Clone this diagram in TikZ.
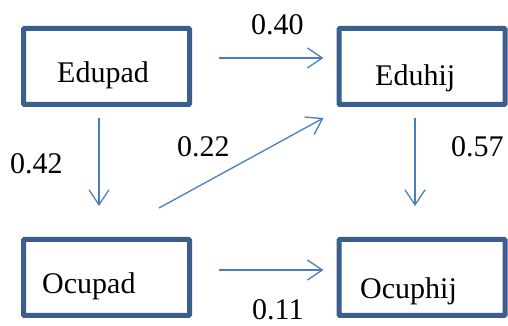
\documentclass[tikz,border=0pt]{standalone}
\usepackage{fontspec}
\setmainfont{Liberation Serif}
\usetikzlibrary{arrows.meta}
\definecolor{boxblue}{HTML}{3B5E8C}
\definecolor{arrblue}{HTML}{4A7EBB}
\begin{document}
\begin{tikzpicture}[x=1pt,y=1pt,
  box/.style={draw=boxblue,line width=5pt,rectangle,rounded corners=1pt,minimum width=166pt,minimum height=76pt,inner sep=0pt,fill=white},
  txt/.style={anchor=base west,inner sep=0pt,font=\fontsize{30}{36}\selectfont},
  conn/.style={draw=arrblue,line width=1.3pt,-{Straight Barb[length=15pt,width=20pt,line width=1.3pt]}}]
\useasboundingbox (0,0) rectangle (508,326);
\node[box] (edupad) at (106.5,259.5) {};
\node[box] (eduhij) at (422,259.5) {};
\node[box] (ocupad) at (106.5,48.5) {};
\node[box] (ocuphij) at (422,48.5) {};
\node[txt] (tedupad) at (57,243) {Edupad};
\node[txt] (teduhij) at (375,240) {Eduhij};
\node[txt] (tocupad) at (42,32) {Ocupad};
\node[txt] (tocuphij) at (360,27) {Ocuphij};
\draw[conn,shorten <=27pt,shorten >=13pt] ([yshift=8.5pt]edupad.east) -- ([yshift=8.5pt]eduhij.west);
\draw[conn,shorten <=11pt,shorten >=31pt] ([xshift=-7.5pt]edupad.south) -- ([xshift=-7.5pt]ocupad.north);
\draw[conn] ([shift={(52.5pt,29pt)}]ocupad.north) -- ([shift={(-13pt,-51.5pt)}]eduhij.west);
\draw[conn,shorten <=11pt,shorten >=31pt] ([xshift=-7pt]eduhij.south) -- ([xshift=-7pt]ocuphij.north);
\draw[conn,shorten <=27pt,shorten >=13pt] ([yshift=7.5pt]ocupad.east) -- ([yshift=7.5pt]ocuphij.west);
\node[txt] (l40) at (251,291) {0.40};
\node[txt] (l42) at (10,152) {0.42};
\node[txt] (l22) at (177,169) {0.22};
\node[txt] (l57) at (451,169) {0.57};
\node[txt] (l11) at (252,6) {0.11};
\end{tikzpicture}
\end{document}
